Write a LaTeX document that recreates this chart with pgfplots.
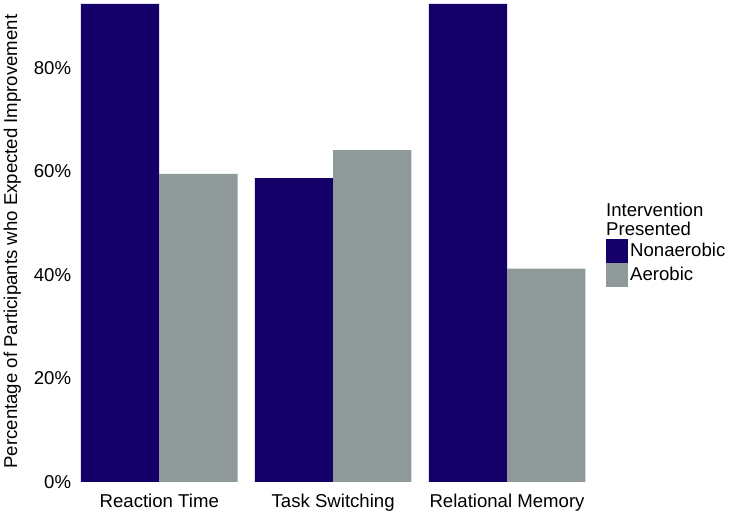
\documentclass[border=0pt]{standalone}
\usepackage{pgfplots}
\pgfplotsset{compat=1.18}
\usepackage{fontspec}
\setmainfont{Liberation Sans}

\definecolor{nonaer}{RGB}{20,0,104}
\definecolor{aer}{RGB}{144,153,153}
\newcommand{\chartfont}{\fontsize{18.6bp}{21.5bp}\selectfont}

\begin{document}
\chartfont
\begin{tikzpicture}
\begin{axis}[
    name=main,
    scale only axis,
    width=521.7bp,
    height=478bp,
    ybar=0pt,
    bar width=0.45,
    xmin=0.5, xmax=3.5,
    ymin=0, ymax=92.3,
    xtick={1,2,3},
    xticklabels={Reaction Time, Task Switching, Relational Memory},
    ytick={0,20,40,60,80},
    yticklabel={\pgfmathprintnumber{\tick}\%},
    /pgf/number format/assume math mode=true,
    axis line style={draw=none},
    major tick style={draw=none},
    tick label style={font=\chartfont, text=black},
    yticklabel style={inner xsep=0pt, xshift=-1bp},
    xticklabel style={inner ysep=0pt, yshift=-8bp},
    ylabel={Percentage of Participants who Expected Improvement},
    every axis y label/.style={at={(rel axis cs:0,0.503)}, xshift=-60bp, rotate=90, anchor=center,
        font=\chartfont},
    legend style={at={(rel axis cs:1.023,0.508)}, anchor=north west, draw=none, fill=none,
        inner sep=0pt, row sep=0pt,
        nodes={inner ysep=3bp, inner xsep=2bp, text height=14bp, text depth=4bp,
               font=\chartfont}},
    legend cell align=left,
    legend image code/.code={\fill[#1,draw=none] (0bp,-12bp) rectangle (22bp,12bp);},
    clip mode=individual,
]
\addplot[fill=nonaer, draw=none] coordinates {(1,92.3) (2,58.7) (3,92.3)};
\addplot[fill=aer, draw=none] coordinates {(1,59.5) (2,64.1) (3,41.2)};
\legend{Nonaerobic, Aerobic}
\coordinate (legtitle) at (rel axis cs:1.023,0.584);
\end{axis}
\node[anchor=north west, align=left, inner sep=0pt,
      font=\fontsize{18.6bp}{19bp}\selectfont] at (legtitle)
    {Intervention\\Presented};
\pgfresetboundingbox
\path[use as bounding box] (-72.3bp,-33bp) rectangle (662.7bp,482bp);
\end{tikzpicture}
\end{document}
